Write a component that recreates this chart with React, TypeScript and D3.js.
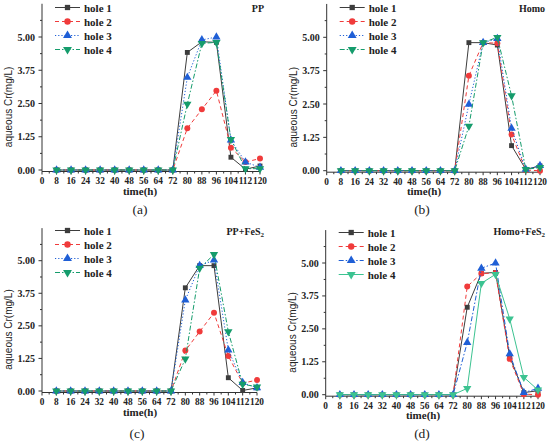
import * as d3 from "d3";

const TIMES = [8, 16, 24, 32, 40, 48, 56, 64, 72, 80, 88, 96, 104, 112, 120];
const X_TICKS = [0, 8, 16, 24, 32, 40, 48, 56, 64, 72, 80, 88, 96, 104, 112, 120];
const Y_TICKS = [0, 1.25, 2.5, 3.75, 5];
const HOLES = ["hole 1", "hole 2", "hole 3", "hole 4"];
const Z = [0, 0, 0, 0, 0, 0, 0, 0, 0];

// PP
const PP_1 = [...Z, 4.42, 4.82, 4.8, 0.48, 0.03, 0.15];
const PP_2 = [...Z, 1.57, 2.28, 2.98, 0.84, 0.3, 0.43];
const PP_3 = [...Z, 3.48, 4.89, 5.0, 1.12, 0.3, 0.1];
const PP_4 = [...Z, 2.48, 4.76, 4.8, 1.15, 0.05, 0.05];

// Homo
const HOMO_1 = [...Z, 4.8, 4.8, 4.71, 0.94, 0.05, 0.18];
const HOMO_2 = [...Z, 3.56, 4.8, 4.78, 1.36, 0.02, 0.0];
const HOMO_3 = [...Z, 2.49, 4.8, 4.95, 1.59, 0.05, 0.19];
const HOMO_4 = [...Z, 1.67, 4.8, 5.0, 2.81, 0.05, 0.12];

// PP+FeS2
const PPF_1 = [...Z, 3.96, 4.81, 4.81, 0.51, 0.02, 0.12];
const PPF_2 = [...Z, 1.55, 2.28, 3.0, 1.34, 0.3, 0.42];
const PPF_3 = [...Z, 3.49, 4.81, 5.02, 1.57, 0.32, 0.12];
const PPF_4 = [...Z, 1.23, 4.71, 5.24, 2.28, 0.26, 0.16];

// Homo+FeS2
const HOMOF_1 = [...Z, 3.32, 4.61, 4.64, 1.45, 0.08, 0.15];
const HOMOF_2 = [...Z, 4.11, 4.6, 4.62, 1.36, 0.02, 0.0];
const HOMOF_3 = [...Z, 1.98, 4.8, 5.0, 1.55, 0.08, 0.24];
const HOMOF_4 = [...Z, 0.24, 4.23, 4.57, 2.88, 0.66, 0.18];

const GRAY = "#3d3d3d";
const RED = "#f03b3b";
const BLUE = "#1f5fd6";
const GREEN = "#159c6c";
const LIGHT_GREEN = "#3cc391";

type Style = { color: string; dash: string; symbol: d3.SymbolType; flip?: boolean };

const STYLES_A: Style[] = [
  { color: GRAY, dash: "", symbol: d3.symbolSquare },
  { color: RED, dash: "4,3", symbol: d3.symbolCircle },
  { color: BLUE, dash: "1.2,2", symbol: d3.symbolTriangle },
  { color: GREEN, dash: "5,2,1.5,2", symbol: d3.symbolTriangle, flip: true },
];
const STYLES_D: Style[] = [
  { color: GRAY, dash: "", symbol: d3.symbolSquare },
  { color: RED, dash: "4,3", symbol: d3.symbolCircle },
  { color: BLUE, dash: "5,2,1.5,2", symbol: d3.symbolTriangle },
  { color: LIGHT_GREEN, dash: "", symbol: d3.symbolTriangle, flip: true },
];

const PANELS = [
  { title: "PP", sub: false, caption: "(a)", series: [PP_1, PP_2, PP_3, PP_4], styles: STYLES_A,
    left: 42, right: 260, zeroY: 170, fiveY: 37, top: 0, titleX: 264, labelX: 140, captionX: 140, captionY: 214, legendDy: 0 },
  { title: "Homo", sub: false, caption: "(b)", series: [HOMO_1, HOMO_2, HOMO_3, HOMO_4], styles: STYLES_A,
    left: 326.7, right: 540, zeroY: 170.7, fiveY: 37.3, top: 0, titleX: 545, labelX: 424, captionX: 422, captionY: 214, legendDy: 0 },
  { title: "PP+FeS", sub: true, caption: "(c)", series: [PPF_1, PPF_2, PPF_3, PPF_4], styles: STYLES_A,
    left: 42, right: 257, zeroY: 391, fiveY: 260.7, top: 223, titleX: 264, labelX: 140, captionX: 137, captionY: 438, legendDy: 0 },
  { title: "Homo+FeS", sub: true, caption: "(d)", series: [HOMOF_1, HOMOF_2, HOMOF_3, HOMOF_4], styles: STYLES_D,
    left: 325.7, right: 538, zeroY: 394.7, fiveY: 263, top: 223, titleX: 545, labelX: 423, captionX: 422, captionY: 437.5, legendDy: 2 },
];

const SERIF = "Times New Roman, Times, Liberation Serif, serif";

function Marker({ x, y, s, size }: { x: number; y: number; s: Style; size: number }) {
  const d = d3.symbol().type(s.symbol).size(size)() ?? "";
  return (
    <path
      d={d}
      transform={`translate(${x},${y})${s.flip ? " rotate(180)" : ""}`}
      fill={s.color}
    />
  );
}

function symSize(s: Style) {
  if (s.symbol === d3.symbolSquare) return 24;
  if (s.symbol === d3.symbolCircle) return 28;
  return 30;
}

function Panel({ p }: { p: (typeof PANELS)[number] }) {
  const x = d3.scaleLinear().domain([0, 120]).range([p.left, p.right]);
  const y = d3.scaleLinear().domain([0, 5]).range([p.zeroY, p.fiveY]);
  const axisY = p.zeroY + 1.5;
  const yTop = y(6.25);
  const line = d3
    .line<number>()
    .x((_, i) => x(TIMES[i]))
    .y((v) => y(v));
  const minorX = d3.range(4, 120, 8);
  const minorY = [0.625, 1.875, 3.125, 4.375, 5.625];

  return (
    <g>
      {/* axes */}
      <line x1={p.left} x2={p.left} y1={yTop} y2={axisY} stroke="#333" strokeWidth={1} />
      <line x1={p.left} x2={p.right} y1={axisY} y2={axisY} stroke="#333" strokeWidth={1} />
      {Y_TICKS.map((t) => (
        <g key={t}>
          <line x1={p.left - 3.5} x2={p.left} y1={y(t)} y2={y(t)} stroke="#333" />
          <text
            x={p.left - 7}
            y={y(t) + 3.5}
            textAnchor="end"
            fontFamily={SERIF}
            fontWeight="bold"
            fontSize={10}
            fill="#222"
          >
            {t.toFixed(2)}
          </text>
        </g>
      ))}
      {minorY.map((t) => (
        <line key={t} x1={p.left - 2} x2={p.left} y1={y(t)} y2={y(t)} stroke="#333" />
      ))}
      {X_TICKS.map((t) => (
        <g key={t}>
          <line x1={x(t)} x2={x(t)} y1={axisY} y2={axisY + 3} stroke="#333" />
          <text
            x={x(t)}
            y={p.zeroY + 14}
            textAnchor="middle"
            fontFamily={SERIF}
            fontWeight="bold"
            fontSize={9.3}
            fill="#222"
          >
            {t}
          </text>
        </g>
      ))}
      {minorX.map((t) => (
        <line key={t} x1={x(t)} x2={x(t)} y1={axisY} y2={axisY + 2} stroke="#333" />
      ))}
      <text
        x={p.labelX}
        y={p.zeroY + 24.5}
        textAnchor="middle"
        fontFamily={SERIF}
        fontWeight="bold"
        fontSize={11}
        fill="#222"
      >
        time(h)
      </text>
      <text
        transform={`translate(${p.left - 30},${(p.zeroY + yTop) / 2 + 20}) rotate(-90)`}
        textAnchor="middle"
        fontFamily="Arial, Liberation Sans, sans-serif"
        fontSize={10}
        fill="#222"
      >
        aqueous Cr(mg/L)
      </text>
      <text x={p.captionX} y={p.captionY} textAnchor="middle" fontFamily={SERIF} fontSize={13.5} fill="#222">
        {p.caption}
      </text>
      <text
        x={p.titleX}
        y={p.top + 12}
        textAnchor="end"
        fontFamily={SERIF}
        fontWeight="bold"
        fontSize={10}
        fill="#222"
      >
        {p.title}
        {p.sub && (
          <tspan fontSize={7} dy={2}>
            2
          </tspan>
        )}
      </text>

      {/* series */}
      {p.series.map((vals, si) => {
        const s = p.styles[si];
        return (
          <g key={si}>
            <path
              d={line(vals) ?? ""}
              fill="none"
              stroke={s.color}
              strokeWidth={1}
              strokeDasharray={s.dash || undefined}
            />
            {vals.map((v, i) => (
              <Marker key={i} x={x(TIMES[i])} y={y(v)} s={s} size={symSize(s)} />
            ))}
          </g>
        );
      })}

      {/* legend */}
      {HOLES.map((h, i) => {
        const s = p.styles[i];
        const ly = p.top + 7.5 + p.legendDy + i * 14;
        return (
          <g key={h}>
            <line
              x1={p.left + 13}
              x2={p.left + 38}
              y1={ly}
              y2={ly}
              stroke={s.color}
              strokeWidth={1}
              strokeDasharray={s.dash || undefined}
            />
            <Marker x={p.left + 25.5} y={ly} s={s} size={symSize(s) + 4} />
            <text
              x={p.left + 42}
              y={ly + 4}
              fontFamily={SERIF}
              fontWeight="bold"
              fontSize={11}
              fill="#222"
            >
              {h}
            </text>
          </g>
        );
      })}
    </g>
  );
}

export default function App() {
  return (
    <svg width={550} height={446} style={{ position: "absolute", left: 0, top: 0, background: "#fff" }}>
      {PANELS.map((p) => (
        <Panel key={p.caption} p={p} />
      ))}
    </svg>
  );
}
